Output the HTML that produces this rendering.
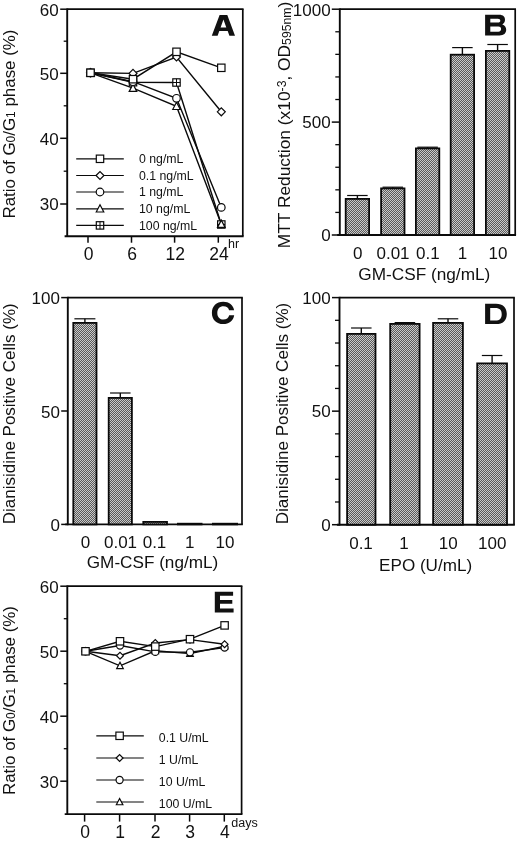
<!DOCTYPE html>
<html><head><meta charset="utf-8"><title>Figure</title>
<style>
html,body{margin:0;padding:0;background:#fff;}
body{width:520px;height:841px;overflow:hidden;font-family:"Liberation Sans",sans-serif;}
svg{display:block;will-change:transform;transform:translateZ(0);}
svg text{font-family:"Liberation Sans",sans-serif;fill:#111;}
</style></head>
<body>
<svg width="520" height="841" viewBox="0 0 520 841">
<defs>
<pattern id="ht" width="2" height="2" patternUnits="userSpaceOnUse">
<rect width="2" height="2" fill="#5a5a5a"/>
<rect x="0" y="0" width="1" height="1" fill="#cacaca"/>
<rect x="1" y="1" width="1" height="1" fill="#cacaca"/>
</pattern>
</defs>
<rect width="520" height="841" fill="#fff"/>
<line x1="67.2" y1="9.2" x2="243.60000000000002" y2="9.2" stroke="#0a0a0a" stroke-width="1.7" />
<line x1="242.8" y1="9.2" x2="242.8" y2="236.2" stroke="#0a0a0a" stroke-width="1.7" />
<line x1="67.2" y1="8.399999999999999" x2="67.2" y2="237.0" stroke="#0a0a0a" stroke-width="1.9" />
<line x1="64.60000000000001" y1="236.2" x2="243.65" y2="236.2" stroke="#0a0a0a" stroke-width="1.9" />
<line x1="60.2" y1="9.2" x2="67.2" y2="9.2" stroke="#0a0a0a" stroke-width="1.5" />
<text x="58.6" y="15.5" font-size="17" text-anchor="end" font-weight="normal" >60</text>
<line x1="60.2" y1="73.3" x2="67.2" y2="73.3" stroke="#0a0a0a" stroke-width="1.5" />
<text x="58.6" y="79.6" font-size="17" text-anchor="end" font-weight="normal" >50</text>
<line x1="60.2" y1="138.3" x2="67.2" y2="138.3" stroke="#0a0a0a" stroke-width="1.5" />
<text x="58.6" y="144.60000000000002" font-size="17" text-anchor="end" font-weight="normal" >40</text>
<line x1="60.2" y1="204" x2="67.2" y2="204" stroke="#0a0a0a" stroke-width="1.5" />
<text x="58.6" y="210.3" font-size="17" text-anchor="end" font-weight="normal" >30</text>
<line x1="63.7" y1="41.2" x2="67.2" y2="41.2" stroke="#0a0a0a" stroke-width="1.3" />
<line x1="63.7" y1="105.8" x2="67.2" y2="105.8" stroke="#0a0a0a" stroke-width="1.3" />
<line x1="63.7" y1="171.2" x2="67.2" y2="171.2" stroke="#0a0a0a" stroke-width="1.3" />
<line x1="88" y1="236.2" x2="88" y2="242.7" stroke="#0a0a0a" stroke-width="1.5" />
<text x="88.6" y="260.4" font-size="17.5" text-anchor="middle" font-weight="normal" >0</text>
<line x1="131.5" y1="236.2" x2="131.5" y2="242.7" stroke="#0a0a0a" stroke-width="1.5" />
<text x="132.1" y="260.4" font-size="17.5" text-anchor="middle" font-weight="normal" >6</text>
<line x1="174.6" y1="236.2" x2="174.6" y2="242.7" stroke="#0a0a0a" stroke-width="1.5" />
<text x="175.2" y="260.4" font-size="17.5" text-anchor="middle" font-weight="normal" >12</text>
<line x1="218.3" y1="236.2" x2="218.3" y2="242.7" stroke="#0a0a0a" stroke-width="1.5" />
<text x="218.9" y="260.4" font-size="17.5" text-anchor="middle" font-weight="normal" >24</text>
<text x="228" y="247.6" font-size="12.5" text-anchor="start" font-weight="normal" >hr</text>
<polyline points="90.5,72.8 133,82.2 176.5,82.5 221.3,224.5" fill="none" stroke="#0a0a0a" stroke-width="1.4"/>
<polyline points="90.5,72.8 133,88.2 176.5,106.3 221.3,224.2" fill="none" stroke="#0a0a0a" stroke-width="1.4"/>
<polyline points="90.5,72.8 133,81.7 176.5,98.3 221.3,207.4" fill="none" stroke="#0a0a0a" stroke-width="1.4"/>
<polyline points="90.5,72.8 133,73.4 176.5,57 221.3,111.8" fill="none" stroke="#0a0a0a" stroke-width="1.4"/>
<polyline points="90.5,72.8 133,79.2 176.5,51.8 221.3,67.8" fill="none" stroke="#0a0a0a" stroke-width="1.4"/>
<rect x="86.8" y="69.1" width="7.4" height="7.4" stroke="#0a0a0a" stroke-width="1.2" fill="#fff"/>
<path d="M86.8 72.8H94.2M90.5 69.1V76.5" stroke="#0a0a0a" stroke-width="1" fill="none"/>
<rect x="129.3" y="78.5" width="7.4" height="7.4" stroke="#0a0a0a" stroke-width="1.2" fill="#fff"/>
<path d="M129.3 82.2H136.7M133 78.5V85.9" stroke="#0a0a0a" stroke-width="1" fill="none"/>
<rect x="172.8" y="78.8" width="7.4" height="7.4" stroke="#0a0a0a" stroke-width="1.2" fill="#fff"/>
<path d="M172.8 82.5H180.2M176.5 78.8V86.2" stroke="#0a0a0a" stroke-width="1" fill="none"/>
<rect x="217.60000000000002" y="220.8" width="7.4" height="7.4" stroke="#0a0a0a" stroke-width="1.2" fill="#fff"/>
<path d="M217.60000000000002 224.5H225.0M221.3 220.8V228.2" stroke="#0a0a0a" stroke-width="1" fill="none"/>
<path d="M86.72 76.0L90.5 68.72999999999999L94.28 76.0Z" stroke="#0a0a0a" stroke-width="1.2" fill="#fff"/>
<path d="M129.22 91.4L133 84.13L136.78 91.4Z" stroke="#0a0a0a" stroke-width="1.2" fill="#fff"/>
<path d="M172.72 109.5L176.5 102.22999999999999L180.28 109.5Z" stroke="#0a0a0a" stroke-width="1.2" fill="#fff"/>
<path d="M217.52 227.39999999999998L221.3 220.13L225.08 227.39999999999998Z" stroke="#0a0a0a" stroke-width="1.2" fill="#fff"/>
<circle cx="90.5" cy="72.8" r="3.79" stroke="#0a0a0a" stroke-width="1.2" fill="#fff"/>
<circle cx="133" cy="81.7" r="3.79" stroke="#0a0a0a" stroke-width="1.2" fill="#fff"/>
<circle cx="176.5" cy="98.3" r="3.79" stroke="#0a0a0a" stroke-width="1.2" fill="#fff"/>
<circle cx="221.3" cy="207.4" r="3.79" stroke="#0a0a0a" stroke-width="1.2" fill="#fff"/>
<path d="M86.52 72.8L90.5 68.82L94.48 72.8L90.5 76.78Z" stroke="#0a0a0a" stroke-width="1.2" fill="#fff"/>
<path d="M129.02 73.4L133 69.42L136.98 73.4L133 77.38000000000001Z" stroke="#0a0a0a" stroke-width="1.2" fill="#fff"/>
<path d="M172.52 57L176.5 53.02L180.48 57L176.5 60.98Z" stroke="#0a0a0a" stroke-width="1.2" fill="#fff"/>
<path d="M217.32000000000002 111.8L221.3 107.82L225.28 111.8L221.3 115.78Z" stroke="#0a0a0a" stroke-width="1.2" fill="#fff"/>
<rect x="86.8" y="69.1" width="7.4" height="7.4" stroke="#0a0a0a" stroke-width="1.2" fill="#fff"/>
<rect x="129.3" y="75.5" width="7.4" height="7.4" stroke="#0a0a0a" stroke-width="1.2" fill="#fff"/>
<rect x="172.8" y="48.099999999999994" width="7.4" height="7.4" stroke="#0a0a0a" stroke-width="1.2" fill="#fff"/>
<rect x="217.60000000000002" y="64.1" width="7.4" height="7.4" stroke="#0a0a0a" stroke-width="1.2" fill="#fff"/>
<line x1="76.2" y1="158.8" x2="123.8" y2="158.8" stroke="#0a0a0a" stroke-width="1.2" />
<rect x="96.3" y="155.10000000000002" width="7.4" height="7.4" stroke="#0a0a0a" stroke-width="1.2" fill="#fff"/>
<text x="139" y="163.10000000000002" font-size="12.3" text-anchor="start" font-weight="normal" >0 ng/mL</text>
<line x1="76.2" y1="175.5" x2="123.8" y2="175.5" stroke="#0a0a0a" stroke-width="1.2" />
<path d="M96.02 175.5L100 171.52L103.98 175.5L100 179.48Z" stroke="#0a0a0a" stroke-width="1.2" fill="#fff"/>
<text x="139" y="179.8" font-size="12.3" text-anchor="start" font-weight="normal" >0.1 ng/mL</text>
<line x1="76.2" y1="192" x2="123.8" y2="192" stroke="#0a0a0a" stroke-width="1.2" />
<circle cx="100" cy="192" r="3.79" stroke="#0a0a0a" stroke-width="1.2" fill="#fff"/>
<text x="139" y="196.3" font-size="12.3" text-anchor="start" font-weight="normal" >1 ng/mL</text>
<line x1="76.2" y1="208.8" x2="123.8" y2="208.8" stroke="#0a0a0a" stroke-width="1.2" />
<path d="M96.22 212.0L100 204.73000000000002L103.78 212.0Z" stroke="#0a0a0a" stroke-width="1.2" fill="#fff"/>
<text x="139" y="213.10000000000002" font-size="12.3" text-anchor="start" font-weight="normal" >10 ng/mL</text>
<line x1="76.2" y1="225.4" x2="123.8" y2="225.4" stroke="#0a0a0a" stroke-width="1.2" />
<rect x="96.3" y="221.70000000000002" width="7.4" height="7.4" stroke="#0a0a0a" stroke-width="1.2" fill="#fff"/>
<path d="M96.3 225.4H103.7M100 221.70000000000002V229.1" stroke="#0a0a0a" stroke-width="1" fill="none"/>
<text x="139" y="229.70000000000002" font-size="12.3" text-anchor="start" font-weight="normal" >100 ng/mL</text>
<path fill="#111" fill-rule="evenodd" d="M211.8 35.7L219.6 14.9L227.3 14.9L235 35.7L229.4 35.7L227.7 31.1L219.3 31.1L217.6 35.7ZM223.45 19.6L226.3 27.5L220.6 27.5Z"/>
<text transform="translate(15,218.5) rotate(-90)" font-size="17" textLength="189" lengthAdjust="spacingAndGlyphs">Ratio of G<tspan font-size="12">0</tspan>/G<tspan font-size="12">1</tspan> phase (%)</text>
<line x1="339.8" y1="9.2" x2="516.0" y2="9.2" stroke="#0a0a0a" stroke-width="1.7" />
<line x1="515.2" y1="9.2" x2="515.2" y2="235" stroke="#0a0a0a" stroke-width="1.7" />
<line x1="339.8" y1="8.399999999999999" x2="339.8" y2="235.8" stroke="#0a0a0a" stroke-width="1.9" />
<line x1="337.2" y1="235" x2="516.0500000000001" y2="235" stroke="#0a0a0a" stroke-width="1.9" />
<line x1="331.8" y1="235.0" x2="339.8" y2="235.0" stroke="#0a0a0a" stroke-width="1.5" />
<text x="330.6" y="241.3" font-size="17" text-anchor="end" font-weight="normal" >0</text>
<line x1="335.3" y1="212.42" x2="339.8" y2="212.42" stroke="#0a0a0a" stroke-width="1.3" />
<line x1="335.3" y1="189.84" x2="339.8" y2="189.84" stroke="#0a0a0a" stroke-width="1.3" />
<line x1="335.3" y1="167.26" x2="339.8" y2="167.26" stroke="#0a0a0a" stroke-width="1.3" />
<line x1="335.3" y1="144.68" x2="339.8" y2="144.68" stroke="#0a0a0a" stroke-width="1.3" />
<line x1="331.8" y1="122.1" x2="339.8" y2="122.1" stroke="#0a0a0a" stroke-width="1.5" />
<text x="330.6" y="128.4" font-size="17" text-anchor="end" font-weight="normal" >500</text>
<line x1="335.3" y1="99.52000000000001" x2="339.8" y2="99.52000000000001" stroke="#0a0a0a" stroke-width="1.3" />
<line x1="335.3" y1="76.94" x2="339.8" y2="76.94" stroke="#0a0a0a" stroke-width="1.3" />
<line x1="335.3" y1="54.359999999999985" x2="339.8" y2="54.359999999999985" stroke="#0a0a0a" stroke-width="1.3" />
<line x1="335.3" y1="31.779999999999973" x2="339.8" y2="31.779999999999973" stroke="#0a0a0a" stroke-width="1.3" />
<line x1="331.8" y1="9.199999999999989" x2="339.8" y2="9.199999999999989" stroke="#0a0a0a" stroke-width="1.5" />
<text x="330.6" y="15.49999999999999" font-size="17" text-anchor="end" font-weight="normal" >1000</text>
<rect x="345.7" y="198.9" width="23.399999999999988" height="36.1" fill="url(#ht)" stroke="#0a0a0a" stroke-width="1.8"/>
<line x1="357.4" y1="195.5" x2="357.4" y2="198.5" stroke="#0a0a0a" stroke-width="1.4" />
<line x1="347.15" y1="195.5" x2="367.65" y2="195.5" stroke="#0a0a0a" stroke-width="1.2" />
<rect x="381.09999999999997" y="188.4" width="23.399999999999988" height="46.6" fill="url(#ht)" stroke="#0a0a0a" stroke-width="1.8"/>
<line x1="392.79999999999995" y1="187.2" x2="392.79999999999995" y2="188.0" stroke="#0a0a0a" stroke-width="1.4" />
<line x1="382.54999999999995" y1="187.2" x2="403.04999999999995" y2="187.2" stroke="#0a0a0a" stroke-width="1.2" />
<rect x="415.9" y="148.4" width="23.399999999999988" height="86.6" fill="url(#ht)" stroke="#0a0a0a" stroke-width="1.8"/>
<line x1="427.6" y1="147.2" x2="427.6" y2="148.0" stroke="#0a0a0a" stroke-width="1.4" />
<line x1="417.35" y1="147.2" x2="437.85" y2="147.2" stroke="#0a0a0a" stroke-width="1.2" />
<rect x="450.7" y="54.699999999999996" width="23.399999999999988" height="180.29999999999998" fill="url(#ht)" stroke="#0a0a0a" stroke-width="1.8"/>
<line x1="462.4" y1="47.6" x2="462.4" y2="54.3" stroke="#0a0a0a" stroke-width="1.4" />
<line x1="452.15" y1="47.6" x2="472.65" y2="47.6" stroke="#0a0a0a" stroke-width="1.2" />
<rect x="485.9" y="50.9" width="23.399999999999988" height="184.1" fill="url(#ht)" stroke="#0a0a0a" stroke-width="1.8"/>
<line x1="497.6" y1="44.5" x2="497.6" y2="50.5" stroke="#0a0a0a" stroke-width="1.4" />
<line x1="487.35" y1="44.5" x2="507.85" y2="44.5" stroke="#0a0a0a" stroke-width="1.2" />
<text x="357.7" y="259.2" font-size="17" text-anchor="middle" font-weight="normal" >0</text>
<text x="393" y="259.2" font-size="17" text-anchor="middle" font-weight="normal" >0.01</text>
<text x="427.8" y="259.2" font-size="17" text-anchor="middle" font-weight="normal" >0.1</text>
<text x="462.4" y="259.2" font-size="17" text-anchor="middle" font-weight="normal" >1</text>
<text x="498" y="259.2" font-size="17" text-anchor="middle" font-weight="normal" >10</text>
<text x="424.3" y="280" font-size="17" text-anchor="middle" font-weight="normal" textLength="132" lengthAdjust="spacingAndGlyphs" >GM-CSF (ng/mL)</text>
<path fill="#111" fill-rule="evenodd" d="M485.1 14.8H499C503.5 14.8 505 17 505 19.8C505 22 504 23.6 502.3 24.4C504.8 25.2 506.2 27.2 506.2 29.8C506.2 33.3 503.8 35.5 499.5 35.5H485.1ZM490.3 18.8H497.8C499.6 18.8 500.3 19.6 500.3 20.7C500.3 21.8 499.6 22.5 497.8 22.5H490.3ZM490.3 26.5H498.3C500.3 26.5 501.1 27.6 501.1 29.1C501.1 30.6 500.3 31.7 498.3 31.7H490.3Z"/>
<text transform="translate(289.8,248.2) rotate(-90)" font-size="17" textLength="246.5" lengthAdjust="spacingAndGlyphs">MTT Reduction (x10<tspan font-size="12" dy="-4">-3</tspan><tspan dy="4">, OD</tspan><tspan font-size="12" dy="1.5">595nm</tspan><tspan dy="-1.5">)</tspan></text>
<line x1="67.8" y1="297.6" x2="242.8" y2="297.6" stroke="#0a0a0a" stroke-width="1.7" />
<line x1="242" y1="297.6" x2="242" y2="524.4" stroke="#0a0a0a" stroke-width="1.7" />
<line x1="67.8" y1="296.8" x2="67.8" y2="525.1999999999999" stroke="#0a0a0a" stroke-width="1.9" />
<line x1="65.2" y1="524.4" x2="242.85" y2="524.4" stroke="#0a0a0a" stroke-width="1.9" />
<line x1="61.199999999999996" y1="524.4" x2="67.8" y2="524.4" stroke="#0a0a0a" stroke-width="1.5" />
<text x="59.9" y="530.9" font-size="17" text-anchor="end" font-weight="normal" >0</text>
<line x1="61.199999999999996" y1="411.0" x2="67.8" y2="411.0" stroke="#0a0a0a" stroke-width="1.5" />
<text x="59.9" y="417.5" font-size="17" text-anchor="end" font-weight="normal" >50</text>
<line x1="61.199999999999996" y1="297.59999999999997" x2="67.8" y2="297.59999999999997" stroke="#0a0a0a" stroke-width="1.5" />
<text x="59.9" y="304.09999999999997" font-size="17" text-anchor="end" font-weight="normal" >100</text>
<rect x="73.30000000000001" y="322.9" width="23.2" height="201.49999999999997" fill="url(#ht)" stroke="#0a0a0a" stroke-width="1.8"/>
<line x1="84.9" y1="318.8" x2="84.9" y2="322.5" stroke="#0a0a0a" stroke-width="1.4" />
<line x1="74.4" y1="318.8" x2="95.4" y2="318.8" stroke="#0a0a0a" stroke-width="1.2" />
<rect x="108.7" y="397.9" width="23.200000000000014" height="126.49999999999997" fill="url(#ht)" stroke="#0a0a0a" stroke-width="1.8"/>
<line x1="120.30000000000001" y1="393" x2="120.30000000000001" y2="397.5" stroke="#0a0a0a" stroke-width="1.4" />
<line x1="110.05000000000001" y1="393" x2="130.55" y2="393" stroke="#0a0a0a" stroke-width="1.2" />
<rect x="143.3" y="521.9" width="23.7" height="2.4999999999999774" fill="url(#ht)" stroke="#0a0a0a" stroke-width="1.8"/>
<rect x="177.9" y="523.6999999999999" width="23.7" height="0.7000000000000227" fill="url(#ht)" stroke="#0a0a0a" stroke-width="1.8"/>
<rect x="212.9" y="523.6999999999999" width="24.2" height="0.7000000000000227" fill="url(#ht)" stroke="#0a0a0a" stroke-width="1.8"/>
<text x="85.5" y="547.7" font-size="17" text-anchor="middle" font-weight="normal" >0</text>
<text x="120.5" y="547.7" font-size="17" text-anchor="middle" font-weight="normal" >0.01</text>
<text x="154.5" y="547.7" font-size="17" text-anchor="middle" font-weight="normal" >0.1</text>
<text x="189.7" y="547.7" font-size="17" text-anchor="middle" font-weight="normal" >1</text>
<text x="225" y="547.7" font-size="17" text-anchor="middle" font-weight="normal" >10</text>
<text x="152.5" y="568" font-size="17" text-anchor="middle" font-weight="normal" textLength="131.5" lengthAdjust="spacingAndGlyphs" >GM-CSF (ng/mL)</text>
<path fill="#111" fill-rule="evenodd" d="M234.1 310.2C233.2 305 229 301.8 223.2 301.8C216.4 301.8 211.9 306.3 211.9 313C211.9 319.7 216.4 324.1 223.2 324.1C229 324.1 233.3 320.7 234.2 315.3H229.2C228.6 318 226.4 319.6 223.5 319.6C219.7 319.6 217.3 317 217.3 313C217.3 309 219.7 306.3 223.5 306.3C226.4 306.3 228.5 307.8 229.1 310.2Z"/>
<text transform="translate(15,524.3) rotate(-90)" font-size="17" textLength="221" lengthAdjust="spacingAndGlyphs">Dianisidine Positive Cells (%)</text>
<line x1="339.5" y1="297.6" x2="514.8" y2="297.6" stroke="#0a0a0a" stroke-width="1.7" />
<line x1="514" y1="297.6" x2="514" y2="524.7" stroke="#0a0a0a" stroke-width="1.7" />
<line x1="339.5" y1="296.8" x2="339.5" y2="525.5" stroke="#0a0a0a" stroke-width="1.9" />
<line x1="336.9" y1="524.7" x2="514.85" y2="524.7" stroke="#0a0a0a" stroke-width="1.9" />
<line x1="332.0" y1="524.7" x2="339.5" y2="524.7" stroke="#0a0a0a" stroke-width="1.5" />
<text x="330.6" y="531.0" font-size="17" text-anchor="end" font-weight="normal" >0</text>
<line x1="335.0" y1="501.99000000000007" x2="339.5" y2="501.99000000000007" stroke="#0a0a0a" stroke-width="1.3" />
<line x1="335.0" y1="479.28000000000003" x2="339.5" y2="479.28000000000003" stroke="#0a0a0a" stroke-width="1.3" />
<line x1="335.0" y1="456.57000000000005" x2="339.5" y2="456.57000000000005" stroke="#0a0a0a" stroke-width="1.3" />
<line x1="335.0" y1="433.86" x2="339.5" y2="433.86" stroke="#0a0a0a" stroke-width="1.3" />
<line x1="332.0" y1="411.15000000000003" x2="339.5" y2="411.15000000000003" stroke="#0a0a0a" stroke-width="1.5" />
<text x="330.6" y="417.45000000000005" font-size="17" text-anchor="end" font-weight="normal" >50</text>
<line x1="335.0" y1="388.44000000000005" x2="339.5" y2="388.44000000000005" stroke="#0a0a0a" stroke-width="1.3" />
<line x1="335.0" y1="365.73" x2="339.5" y2="365.73" stroke="#0a0a0a" stroke-width="1.3" />
<line x1="335.0" y1="343.02000000000004" x2="339.5" y2="343.02000000000004" stroke="#0a0a0a" stroke-width="1.3" />
<line x1="335.0" y1="320.31000000000006" x2="339.5" y2="320.31000000000006" stroke="#0a0a0a" stroke-width="1.3" />
<line x1="332.0" y1="297.6" x2="339.5" y2="297.6" stroke="#0a0a0a" stroke-width="1.5" />
<text x="330.6" y="303.90000000000003" font-size="17" text-anchor="end" font-weight="normal" >100</text>
<rect x="347.09999999999997" y="333.9" width="28.399999999999988" height="190.80000000000004" fill="url(#ht)" stroke="#0a0a0a" stroke-width="1.8"/>
<line x1="361.29999999999995" y1="328" x2="361.29999999999995" y2="333.5" stroke="#0a0a0a" stroke-width="1.4" />
<line x1="351.04999999999995" y1="328" x2="371.54999999999995" y2="328" stroke="#0a0a0a" stroke-width="1.2" />
<rect x="390.2" y="323.9" width="29.399999999999988" height="200.80000000000004" fill="url(#ht)" stroke="#0a0a0a" stroke-width="1.8"/>
<line x1="404.9" y1="322.6" x2="404.9" y2="323.5" stroke="#0a0a0a" stroke-width="1.4" />
<line x1="394.65" y1="322.6" x2="415.15" y2="322.6" stroke="#0a0a0a" stroke-width="1.2" />
<rect x="433.09999999999997" y="322.9" width="29.800000000000022" height="201.80000000000004" fill="url(#ht)" stroke="#0a0a0a" stroke-width="1.8"/>
<line x1="448.0" y1="318.8" x2="448.0" y2="322.5" stroke="#0a0a0a" stroke-width="1.4" />
<line x1="437.75" y1="318.8" x2="458.25" y2="318.8" stroke="#0a0a0a" stroke-width="1.2" />
<rect x="477.2" y="363.4" width="29.800000000000022" height="161.30000000000004" fill="url(#ht)" stroke="#0a0a0a" stroke-width="1.8"/>
<line x1="492.1" y1="355.5" x2="492.1" y2="363.0" stroke="#0a0a0a" stroke-width="1.4" />
<line x1="481.85" y1="355.5" x2="502.35" y2="355.5" stroke="#0a0a0a" stroke-width="1.2" />
<text x="361" y="548.6" font-size="17" text-anchor="middle" font-weight="normal" >0.1</text>
<text x="404" y="548.6" font-size="17" text-anchor="middle" font-weight="normal" >1</text>
<text x="448.3" y="548.6" font-size="17" text-anchor="middle" font-weight="normal" >10</text>
<text x="492.3" y="548.6" font-size="17" text-anchor="middle" font-weight="normal" >100</text>
<text x="425.6" y="571" font-size="17" text-anchor="middle" font-weight="normal" textLength="93" lengthAdjust="spacingAndGlyphs" >EPO (U/mL)</text>
<path fill="#111" fill-rule="evenodd" d="M485.1 303.7H496C503 303.7 506.8 307.5 506.8 313.9C506.8 320.3 503 324.1 496 324.1H485.1ZM490.2 307.9H495.3C499.8 307.9 501.7 310 501.7 314.2C501.7 318.4 499.8 320.5 495.3 320.5H490.2Z"/>
<text transform="translate(288.4,524.3) rotate(-90)" font-size="17" textLength="221.5" lengthAdjust="spacingAndGlyphs">Dianisidine Positive Cells (%)</text>
<line x1="67.3" y1="586.2" x2="242.4" y2="586.2" stroke="#0a0a0a" stroke-width="1.7" />
<line x1="241.6" y1="586.2" x2="241.6" y2="814.1" stroke="#0a0a0a" stroke-width="1.7" />
<line x1="67.3" y1="585.4000000000001" x2="67.3" y2="814.9" stroke="#0a0a0a" stroke-width="1.9" />
<line x1="64.7" y1="814.1" x2="242.45" y2="814.1" stroke="#0a0a0a" stroke-width="1.9" />
<line x1="60.3" y1="586.2" x2="67.3" y2="586.2" stroke="#0a0a0a" stroke-width="1.5" />
<text x="58.6" y="592.5" font-size="17" text-anchor="end" font-weight="normal" >60</text>
<line x1="60.3" y1="651.2" x2="67.3" y2="651.2" stroke="#0a0a0a" stroke-width="1.5" />
<text x="58.6" y="657.5" font-size="17" text-anchor="end" font-weight="normal" >50</text>
<line x1="60.3" y1="716.2" x2="67.3" y2="716.2" stroke="#0a0a0a" stroke-width="1.5" />
<text x="58.6" y="722.5" font-size="17" text-anchor="end" font-weight="normal" >40</text>
<line x1="60.3" y1="781.2" x2="67.3" y2="781.2" stroke="#0a0a0a" stroke-width="1.5" />
<text x="58.6" y="787.5" font-size="17" text-anchor="end" font-weight="normal" >30</text>
<line x1="63.8" y1="618.7" x2="67.3" y2="618.7" stroke="#0a0a0a" stroke-width="1.3" />
<line x1="63.8" y1="683.7" x2="67.3" y2="683.7" stroke="#0a0a0a" stroke-width="1.3" />
<line x1="63.8" y1="748.7" x2="67.3" y2="748.7" stroke="#0a0a0a" stroke-width="1.3" />
<line x1="84.6" y1="814.1" x2="84.6" y2="821.6" stroke="#0a0a0a" stroke-width="1.5" />
<text x="85.19999999999999" y="837.7" font-size="17.5" text-anchor="middle" font-weight="normal" >0</text>
<line x1="119.6" y1="814.1" x2="119.6" y2="821.6" stroke="#0a0a0a" stroke-width="1.5" />
<text x="120.19999999999999" y="837.7" font-size="17.5" text-anchor="middle" font-weight="normal" >1</text>
<line x1="155" y1="814.1" x2="155" y2="821.6" stroke="#0a0a0a" stroke-width="1.5" />
<text x="155.6" y="837.7" font-size="17.5" text-anchor="middle" font-weight="normal" >2</text>
<line x1="189.6" y1="814.1" x2="189.6" y2="821.6" stroke="#0a0a0a" stroke-width="1.5" />
<text x="190.2" y="837.7" font-size="17.5" text-anchor="middle" font-weight="normal" >3</text>
<line x1="224.3" y1="814.1" x2="224.3" y2="821.6" stroke="#0a0a0a" stroke-width="1.5" />
<text x="224.9" y="837.7" font-size="17.5" text-anchor="middle" font-weight="normal" >4</text>
<text x="231.3" y="827" font-size="12.5" text-anchor="start" font-weight="normal" textLength="26.5" lengthAdjust="spacingAndGlyphs" >days</text>
<polyline points="85.5,651.3 120,665.8 155.3,650.8 190,653.6 224.6,646.2" fill="none" stroke="#0a0a0a" stroke-width="1.4"/>
<polyline points="85.5,651.3 120,645.5 155.3,651.9 190,652.3 224.6,647.6" fill="none" stroke="#0a0a0a" stroke-width="1.4"/>
<polyline points="85.5,651.3 120,655.7 155.3,643 190,639.6 224.6,644.2" fill="none" stroke="#0a0a0a" stroke-width="1.4"/>
<polyline points="85.5,651.3 120,641.3 155.3,646.6 190,639.2 224.6,625.4" fill="none" stroke="#0a0a0a" stroke-width="1.4"/>
<path d="M82.22 654.0699999999999L85.5 647.77L88.78 654.0699999999999Z" stroke="#0a0a0a" stroke-width="1.2" fill="#fff"/>
<path d="M116.72 668.5699999999999L120 662.27L123.28 668.5699999999999Z" stroke="#0a0a0a" stroke-width="1.2" fill="#fff"/>
<path d="M152.02 653.5699999999999L155.3 647.27L158.58 653.5699999999999Z" stroke="#0a0a0a" stroke-width="1.2" fill="#fff"/>
<path d="M186.72 656.37L190 650.07L193.28 656.37Z" stroke="#0a0a0a" stroke-width="1.2" fill="#fff"/>
<path d="M221.32 648.97L224.6 642.6700000000001L227.88 648.97Z" stroke="#0a0a0a" stroke-width="1.2" fill="#fff"/>
<circle cx="85.5" cy="651.3" r="3.53" stroke="#0a0a0a" stroke-width="1.2" fill="#fff"/>
<circle cx="120" cy="645.5" r="3.53" stroke="#0a0a0a" stroke-width="1.2" fill="#fff"/>
<circle cx="155.3" cy="651.9" r="3.53" stroke="#0a0a0a" stroke-width="1.2" fill="#fff"/>
<circle cx="190" cy="652.3" r="3.53" stroke="#0a0a0a" stroke-width="1.2" fill="#fff"/>
<circle cx="224.6" cy="647.6" r="3.53" stroke="#0a0a0a" stroke-width="1.2" fill="#fff"/>
<path d="M82.06 651.3L85.5 647.8599999999999L88.94 651.3L85.5 654.74Z" stroke="#0a0a0a" stroke-width="1.2" fill="#fff"/>
<path d="M116.56 655.7L120 652.26L123.44 655.7L120 659.1400000000001Z" stroke="#0a0a0a" stroke-width="1.2" fill="#fff"/>
<path d="M151.86 643L155.3 639.56L158.74 643L155.3 646.44Z" stroke="#0a0a0a" stroke-width="1.2" fill="#fff"/>
<path d="M186.56 639.6L190 636.16L193.44 639.6L190 643.0400000000001Z" stroke="#0a0a0a" stroke-width="1.2" fill="#fff"/>
<path d="M221.16 644.2L224.6 640.76L228.04 644.2L224.6 647.6400000000001Z" stroke="#0a0a0a" stroke-width="1.2" fill="#fff"/>
<rect x="81.8" y="647.5999999999999" width="7.4" height="7.4" stroke="#0a0a0a" stroke-width="1.2" fill="#fff"/>
<rect x="116.3" y="637.5999999999999" width="7.4" height="7.4" stroke="#0a0a0a" stroke-width="1.2" fill="#fff"/>
<rect x="151.60000000000002" y="642.9" width="7.4" height="7.4" stroke="#0a0a0a" stroke-width="1.2" fill="#fff"/>
<rect x="186.3" y="635.5" width="7.4" height="7.4" stroke="#0a0a0a" stroke-width="1.2" fill="#fff"/>
<rect x="220.9" y="621.6999999999999" width="7.4" height="7.4" stroke="#0a0a0a" stroke-width="1.2" fill="#fff"/>
<line x1="96.3" y1="735.8" x2="143.8" y2="735.8" stroke="#0a0a0a" stroke-width="1.2" />
<rect x="115.89999999999999" y="732.0999999999999" width="7.4" height="7.4" stroke="#0a0a0a" stroke-width="1.2" fill="#fff"/>
<text x="158.8" y="741.9" font-size="12.3" text-anchor="start" font-weight="normal" >0.1 U/mL</text>
<line x1="96.3" y1="758" x2="143.8" y2="758" stroke="#0a0a0a" stroke-width="1.2" />
<path d="M116.16 758L119.6 754.56L123.03999999999999 758L119.6 761.44Z" stroke="#0a0a0a" stroke-width="1.2" fill="#fff"/>
<text x="158.8" y="764.1" font-size="12.3" text-anchor="start" font-weight="normal" >1 U/mL</text>
<line x1="96.3" y1="780" x2="143.8" y2="780" stroke="#0a0a0a" stroke-width="1.2" />
<circle cx="119.6" cy="780" r="3.53" stroke="#0a0a0a" stroke-width="1.2" fill="#fff"/>
<text x="158.8" y="786.1" font-size="12.3" text-anchor="start" font-weight="normal" >10 U/mL</text>
<line x1="96.3" y1="802" x2="143.8" y2="802" stroke="#0a0a0a" stroke-width="1.2" />
<path d="M116.32 804.77L119.6 798.47L122.88 804.77Z" stroke="#0a0a0a" stroke-width="1.2" fill="#fff"/>
<text x="158.8" y="808.1" font-size="12.3" text-anchor="start" font-weight="normal" >100 U/mL</text>
<path fill="#111" d="M214.8 591.7H233.1V595.8H220V600H232.3V603.8H220V608.4H233.6V612.6H214.8Z"/>
<text transform="translate(15,795) rotate(-90)" font-size="17" textLength="189" lengthAdjust="spacingAndGlyphs">Ratio of G<tspan font-size="12">0</tspan>/G<tspan font-size="12">1</tspan> phase (%)</text>
</svg>
</body></html>
